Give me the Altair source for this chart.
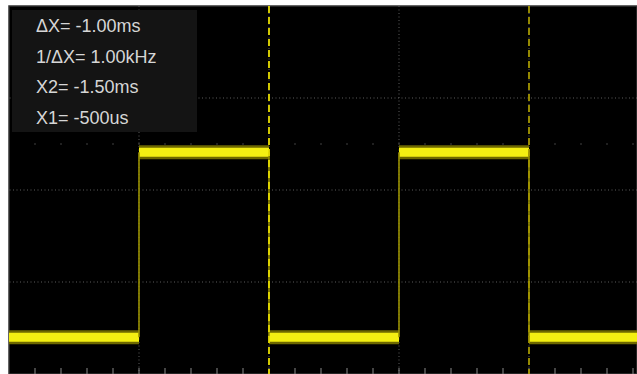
import altair as alt
import pandas as pd

# ---- data (time in ms, level in vertical divisions) ----
X1_MS = -0.5          # cursor X1 = -500us
X2_MS = -1.5          # cursor X2 = -1.50ms
cursor_names = ["X2", "X1"]
cursor_times = [X2_MS, X1_MS]

readout = ["ΔX= -1.00ms", "1/ΔX= 1.00kHz", "X2= -1.50ms", "X1= -500us"]

LOW, HIGH = 0.40, 2.41
seg_start = [-2.5, -2.0, -1.5, -1.0, -0.5]
seg_end = [-2.0, -1.5, -1.0, -0.5, -0.08]
seg_level = [LOW, HIGH, LOW, HIGH, LOW]
edge_times = [-2.0, -1.5, -1.0, -0.5]

grid_x = [-2.0, -1.5, -1.0, -0.5]
grid_y = [1, 2, 3]
minor_x = [round(-2.4 + 0.1 * k, 2) for k in range(24)]

# ---- scales ----
W, H = 628, 368
XMIN = -2.5
XMAX = XMIN + W / 260.0
xs = alt.Scale(domain=[XMIN, XMAX], nice=False, zero=False)
ys = alt.Scale(domain=[0, 4], nice=False, zero=False)

seg_df = pd.DataFrame({"s": seg_start, "e": seg_end, "lvl": seg_level})
edge_df = pd.DataFrame({"t": edge_times, "lo": [LOW] * len(edge_times), "hi": [HIGH] * len(edge_times)})
gx_df = pd.DataFrame({"t": grid_x})
gy_df = pd.DataFrame({"v": grid_y})
minor_df = pd.DataFrame({"t": minor_x, "v": [2.5] * len(minor_x)})
cur_df = pd.DataFrame({"name": cursor_names, "t": cursor_times})

grid_v = alt.Chart(gx_df).mark_rule(color="#5c5c5c", strokeDash=[1, 2.5], strokeWidth=1).encode(
    x=alt.X("t:Q", scale=xs, axis=None))
grid_h = alt.Chart(gy_df).mark_rule(color="#5c5c5c", strokeDash=[1, 2.5], strokeWidth=1).encode(
    y=alt.Y("v:Q", scale=ys, axis=None))
dots = alt.Chart(minor_df).mark_square(size=1.5, color="#6a6a6a", opacity=1).encode(
    x=alt.X("t:Q", scale=xs, axis=None), y=alt.Y("v:Q", scale=ys, axis=None))
ticks = alt.Chart(minor_df).mark_rule(color="#8a8a8a", strokeWidth=1).encode(
    x=alt.X("t:Q", scale=xs, axis=None), y=alt.value(H), y2=alt.value(H - 6))

halo = alt.Chart(seg_df).mark_rule(color="#6e6800", strokeWidth=14, strokeCap="butt").encode(
    x=alt.X("s:Q", scale=xs, axis=None), x2="e:Q", y=alt.Y("lvl:Q", scale=ys, axis=None))
bright = alt.Chart(seg_df).mark_rule(color="#f4ef12", strokeWidth=9, strokeCap="butt").encode(
    x=alt.X("s:Q", scale=xs, axis=None), x2="e:Q", y=alt.Y("lvl:Q", scale=ys, axis=None))
edges = alt.Chart(edge_df).mark_rule(color="#9a9200", strokeWidth=1.6).encode(
    x=alt.X("t:Q", scale=xs, axis=None), y=alt.Y("lo:Q", scale=ys, axis=None), y2="hi:Q")

cursors = alt.Chart(cur_df).mark_rule(strokeDash=[7, 4], strokeWidth=1.8).encode(
    x=alt.X("t:Q", scale=xs, axis=None),
    color=alt.Color("name:N", scale=alt.Scale(domain=cursor_names, range=["#e6dc00", "#a39600"]), legend=None))

box = alt.Chart(pd.DataFrame({"a": [0]})).mark_rect(color="#141414").encode(
    x=alt.value(3), x2=alt.value(188), y=alt.value(4), y2=alt.value(126))

texts = []
for i, lab in enumerate(readout):
    texts.append(
        alt.Chart(pd.DataFrame({"label": [lab]})).mark_text(
            align="left", baseline="alphabetic", font="Liberation Sans", fontSize=18, color="#d6d6d6"
        ).encode(text="label:N", x=alt.value(27), y=alt.value(26 + 30.5 * i))
    )

chart = alt.layer(grid_v, grid_h, dots, ticks, halo, bright, edges, cursors, box, *texts).properties(
    width=W, height=H, background="white",
    padding={"left": 9, "top": 6, "right": 0, "bottom": 0}, autosize="none",
).configure_view(fill="black", stroke="#333333", strokeWidth=1.5)

chart.save("out.html", embed_options={"renderer": "svg", "actions": False})
